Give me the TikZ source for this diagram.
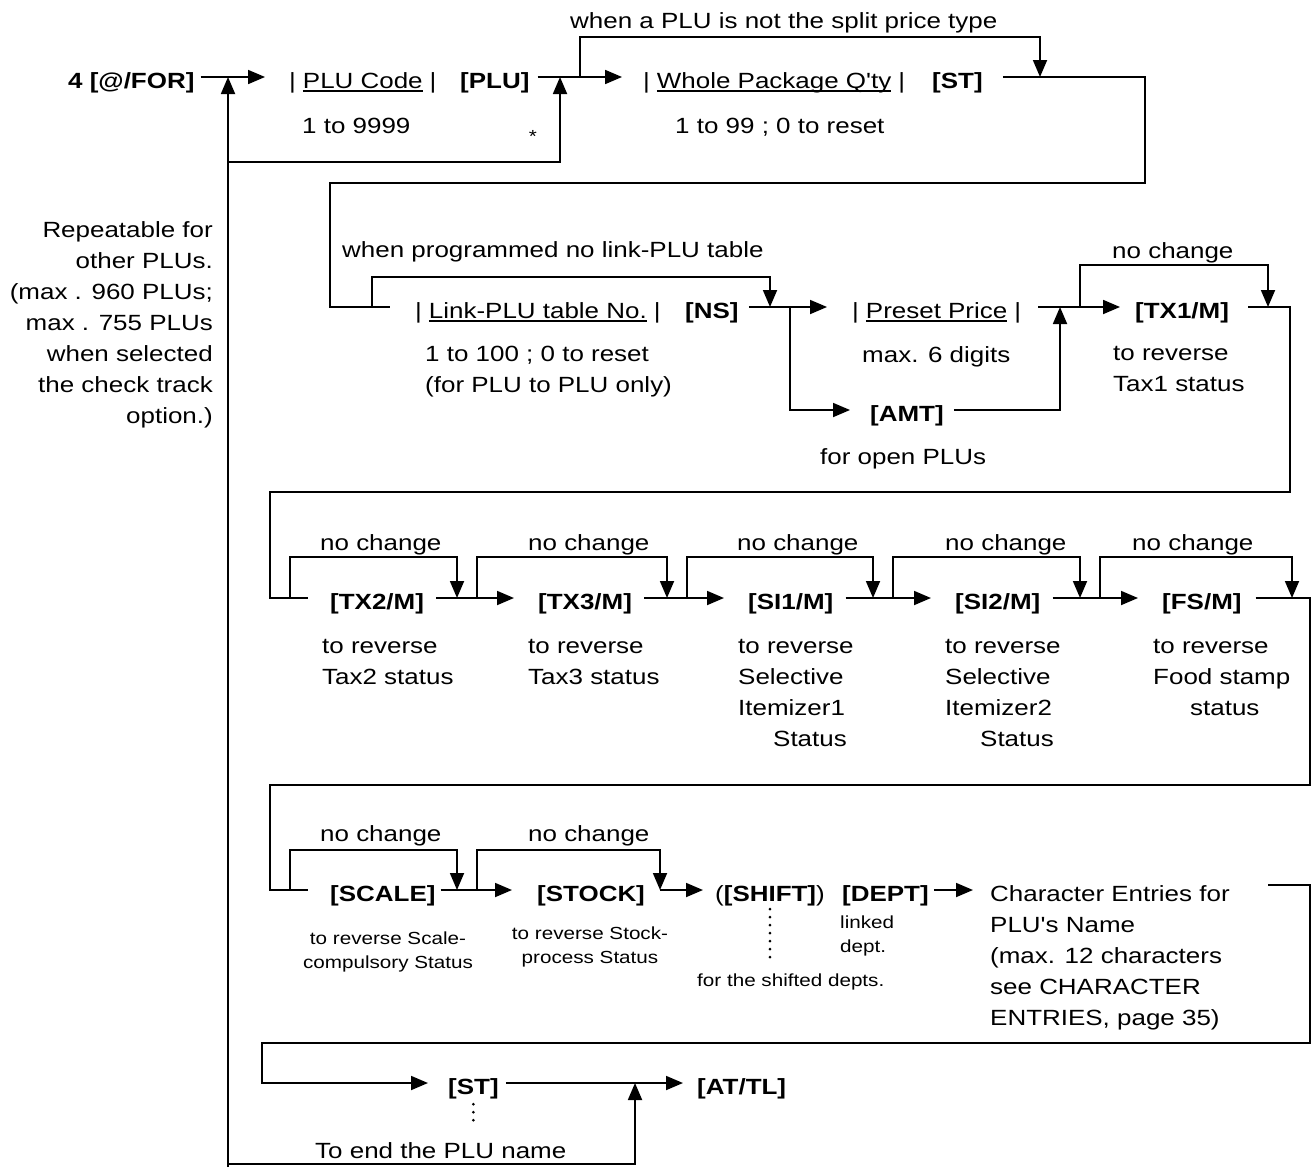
\documentclass[tikz,border=0pt]{standalone}
\usepackage{fontspec}
\setmainfont{Liberation Sans}[FakeStretch=1.18,Ligatures=TeXOff]
\usetikzlibrary{arrows.meta}
\newcommand{\mainsz}{\fontsize{22}{31}\selectfont}
\newcommand{\smallsz}{\fontsize{17.5}{24}\selectfont}
\newcommand{\uln}[1]{\setbox0\hbox{#1}\rlap{\rule[-4pt]{\wd0}{1.6pt}}\box0}
\tikzset{
  keybox/.style={anchor=west,inner sep=0pt,text height=22pt,text depth=0pt,font=\mainsz\bfseries},
  fieldbox/.style={keybox,font=\mainsz},
  notetext/.style={anchor=north west,inner sep=0pt,yshift=16pt,align=left,font=\mainsz},
  smallnote/.style={anchor=north west,inner sep=0pt,yshift=12.5pt,align=left,font=\smallsz},
  smallmid/.style={smallnote,anchor=north,align=center},
  flow/.style={->,line width=1.8pt},
  wire/.style={line width=1.8pt},
  dotline/.style={line width=3pt,line cap=round,dash pattern=on 0pt off 8pt}
}
\begin{document}
\begin{tikzpicture}[x=1pt,y=-1pt,>={Triangle[length=17pt,width=14pt]}]
\useasboundingbox (0,0) rectangle (1316,1167);
% row 1
\node[keybox] (for) at (68,77) {4 [@/FOR]};
\node[fieldbox] (plucode) at (289,77) {|\hspace{7pt}\uln{PLU Code}\hspace{7pt}|};
\node[keybox] (plukey) at (460,77) {[PLU]};
\node[fieldbox] (wpq) at (643,77) {|\hspace{7pt}\uln{Whole Package Q'ty}\hspace{7pt}|};
\node[keybox] (stA) at (932,77) {[ST]};
\node[notetext] (plurange) at (302,134) {1 to 9999};
\node[font=\smallsz,inner sep=0pt] (star) at (533,136) {*};
\node[notetext] (splitnote) at (570,28) {when a PLU is not the split price type};
\node[notetext] (wpqrange) at (675,134) {1 to 99 ; 0 to reset};
\node[anchor=north east,inner sep=0pt,yshift=16pt,align=right,font=\mainsz] (repeatnote) at (213,237)
  {Repeatable for\\other PLUs.\\(max . 960 PLUs;\\max . 755 PLUs\\when selected\\the check track\\option.)};
\coordinate (repfoot) at (228,1167);
\coordinate (repbottom) at (228,1164);
\coordinate (repmid) at (228,162);
\coordinate (forjoin) at (228,77);
\coordinate (plujoin) at (560,77);
\coordinate (splitfrom) at (580,77);
\coordinate (splitjoin) at (1040,77);
\draw[flow] (repfoot) -- (forjoin);
\draw[flow] ([xshift=6pt]for.east) -- ([xshift=-24pt]plucode.west);
\draw[flow] (repmid) -| (plujoin);
\draw[flow] ([xshift=8pt]plukey.east) -- ([xshift=-21pt]wpq.west);
\draw[flow] (splitfrom) -- ++(0,-40) -| (splitjoin);
% row 2
\node[fieldbox] (linkno) at (415,307) {|\hspace{7pt}\uln{Link-PLU table No.}\hspace{7pt}|};
\node[keybox] (nskey) at (685,307) {[NS]};
\node[notetext] (linkrange) at (425,362) {1 to 100 ; 0 to reset\\(for PLU to PLU only)};
\node[notetext] (linknote) at (342,257) {when programmed no link-PLU table};
\node[fieldbox] (preset) at (852,307) {|\hspace{7pt}\uln{Preset Price}\hspace{7pt}|};
\node[notetext] (presetrange) at (862,362) {max. 6 digits};
\node[keybox] (amt) at (870,410) {[AMT]};
\node[notetext] (amtnote) at (820,464) {for open PLUs};
\node[notetext] (tx1nochg) at (1112,258) {no change};
\node[keybox] (tx1) at (1135,307) {[TX1/M]};
\node[notetext] (tx1note) at (1113,362) {to reverse\\Tax1 status};
\coordinate (linkskip) at (372,307);
\coordinate (linkjoin) at (770,307);
\coordinate (amtfork) at (790,307);
\coordinate (amtjoin) at (1060,307);
\coordinate (tx1skip) at (1080,307);
\coordinate (tx1join) at (1268,307);
\draw[wire] ([xshift=20pt]stA.east) -| (1145,183) -| (330,307) -- ([xshift=-25pt]linkno.west);
\draw[flow] (linkskip) -- ++(0,-30) -| (linkjoin);
\draw[flow] ([xshift=10pt]nskey.east) -- ([xshift=-25pt]preset.west);
\draw[flow] (amtfork) |- ([xshift=-20pt]amt.west);
\draw[flow] ([xshift=10pt]amt.east) -| (amtjoin);
\draw[flow] ([xshift=17pt]preset.east) -- ([xshift=-15pt]tx1.west);
\draw[flow] (tx1skip) -- ++(0,-42) -| (tx1join);
% row 3
\node[keybox] (tx2) at (330,598) {[TX2/M]};
\node[keybox] (tx3) at (538,598) {[TX3/M]};
\node[keybox] (si1) at (748,598) {[SI1/M]};
\node[keybox] (si2) at (955,598) {[SI2/M]};
\node[keybox] (fs) at (1162,598) {[FS/M]};
\node[notetext] (tx2note) at (322,655) {to reverse\\Tax2 status};
\node[notetext] (tx3note) at (528,655) {to reverse\\Tax3 status};
\node[notetext] (si1note) at (738,655) {to reverse\\Selective\\Itemizer1\\\hspace*{35pt}Status};
\node[notetext] (si2note) at (945,655) {to reverse\\Selective\\Itemizer2\\\hspace*{35pt}Status};
\node[notetext] (fsnote) at (1153,655) {to reverse\\Food stamp\\\hspace*{37pt}status};
\draw[wire] ([xshift=19pt]tx1.east) -| (1290,492) -| (270,598) -- ([xshift=-22pt]tx2.west);
\foreach \sx/\jx/\lx [count=\i] in {290/457/320,477/667/528,687/873/737,893/1080/945,1100/1292/1132}{
  \coordinate (skipC\i) at (\sx,598);
  \coordinate (joinC\i) at (\jx,598);
  \node[notetext] (nochgC\i) at (\lx,550) {no change};
  \draw[flow] (skipC\i) -- ++(0,-41) -| (joinC\i);
}
\foreach \a/\b in {tx2/tx3,tx3/si1,si1/si2,si2/fs}
  \draw[flow] ([xshift=12pt]\a.east) -- ([xshift=-24pt]\b.west);
% row 4
\node[keybox] (scale) at (330,890) {[SCALE]};
\node[keybox] (stock) at (537,890) {[STOCK]};
\node[fieldbox] (shift) at (715,890) {(\textbf{[SHIFT]})};
\node[keybox] (dept) at (842,890) {[DEPT]};
\node[notetext] (nochgD1) at (320,841) {no change};
\node[notetext] (nochgD2) at (528,841) {no change};
\node[smallmid] (scalenote) at (388,944) {to reverse Scale-\\compulsory Status};
\node[smallmid] (stocknote) at (590,939) {to reverse Stock-\\process Status};
\node[smallnote] (deptnote) at (840,928) {linked\\dept.};
\node[smallnote] (shiftnote) at (697,986) {for the shifted depts.};
\node[notetext] (charent) at (990,901) {Character Entries for\\PLU's Name\\(max. 12 characters\\see CHARACTER\\ENTRIES, page 35)};
\coordinate (skipD1) at (290,890);
\coordinate (joinD1) at (457,890);
\coordinate (skipD2) at (477,890);
\coordinate (joinD2) at (660,890);
\coordinate (charin) at (973,890);
\coordinate (charout) at (1268,885);
\draw[wire] ([xshift=14pt]fs.east) -| (1310,785) -| (270,890) -- ([xshift=-22pt]scale.west);
\draw[flow] (skipD1) -- ++(0,-40) -| (joinD1);
\draw[flow] (skipD2) -- ++(0,-40) -| (joinD2);
\draw[flow] ([xshift=5pt]scale.east) -- ([xshift=-25pt]stock.west);
\draw[flow] (joinD2) -- ([xshift=-12pt]shift.west);
\draw[flow] ([xshift=5pt]dept.east) -- (charin);
\draw[dotline] ([yshift=-8pt]shift.south) -- ++(0,48);
% row 5
\node[keybox] (stB) at (448,1083) {[ST]};
\node[keybox] (attl) at (697,1083) {[AT/TL]};
\node[notetext] (endnote) at (315,1158) {To end the PLU name};
\coordinate (endjoin) at (635,1083);
\draw[flow] (charout) -| (1310,1043) -| (262,1083) -- ([xshift=-20pt]stB.west);
\draw[flow] ([xshift=7pt]stB.east) -- ([xshift=-14pt]attl.west);
\draw[flow] (repbottom) -| (endjoin);
\draw[dotline] ([yshift=-10pt]stB.south) -- ++(0,16);
\end{tikzpicture}
\end{document}
